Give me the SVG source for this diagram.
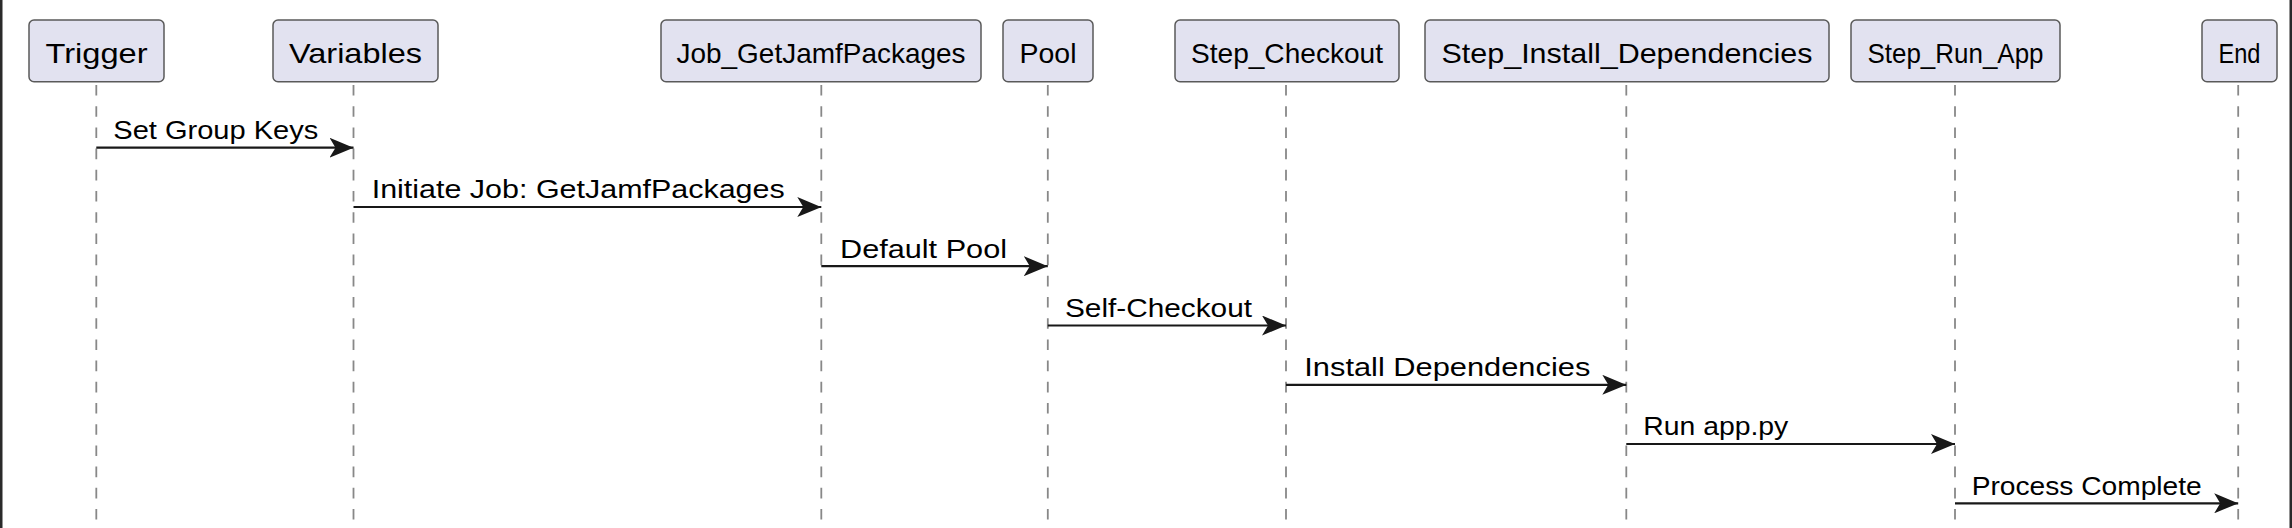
<svg xmlns="http://www.w3.org/2000/svg" width="2292" height="528" viewBox="0 0 2292 528">
<style>
.box{fill:#E2E2F0;stroke:#5a5a5a;stroke-width:1.5}
.pt{font-family:"Liberation Sans",Arial,sans-serif;font-size:28px;fill:#000;text-anchor:middle}
.life{stroke:#888;stroke-width:1.8;stroke-dasharray:10.6 10.6;fill:none}
.msg{stroke:#181818;stroke-width:2.2;fill:none;marker-end:url(#ah)}
.ml{font-family:"Liberation Sans",Arial,sans-serif;font-size:26px;fill:#000}
</style>
<defs>
<marker id="ah" markerUnits="userSpaceOnUse" viewBox="0 0 24 20" refX="24" refY="10" markerWidth="24" markerHeight="20" orient="auto">
<path d="M0,0 L24,10 L0,20 L6,10 Z" fill="#181818"/>
</marker>
</defs>
<rect x="0" y="0" width="2292" height="528" fill="#fff"/>
<rect x="0" y="0" width="2.5" height="528" fill="#2a2a2a"/>
<rect x="2289.5" y="0" width="2.5" height="528" fill="#2a2a2a"/>
<g id="lifelines">
<line class="life" x1="96.3" y1="85" x2="96.3" y2="528"/>
<line class="life" x1="353.5" y1="85" x2="353.5" y2="528"/>
<line class="life" x1="821.3" y1="85" x2="821.3" y2="528"/>
<line class="life" x1="1047.8" y1="85" x2="1047.8" y2="528"/>
<line class="life" x1="1286" y1="85" x2="1286" y2="528"/>
<line class="life" x1="1626.3" y1="85" x2="1626.3" y2="528"/>
<line class="life" x1="1955" y1="85" x2="1955" y2="528"/>
<line class="life" x1="2238.2" y1="85" x2="2238.2" y2="528"/>
</g>
<g id="Trigger"><rect class="box" x="29" y="20" width="135" height="61.7" rx="5"/><text class="pt" x="96.5" y="62.5" textLength="102" lengthAdjust="spacingAndGlyphs">Trigger</text></g>
<g id="Variables"><rect class="box" x="273" y="20" width="165" height="61.7" rx="5"/><text class="pt" x="355.5" y="62.5" textLength="133" lengthAdjust="spacingAndGlyphs">Variables</text></g>
<g id="Job_GetJamfPackages"><rect class="box" x="661" y="20" width="320" height="61.7" rx="5"/><text class="pt" x="821" y="62.5" textLength="289" lengthAdjust="spacingAndGlyphs">Job_GetJamfPackages</text></g>
<g id="Pool"><rect class="box" x="1003" y="20" width="90" height="61.7" rx="5"/><text class="pt" x="1048" y="62.5" textLength="57" lengthAdjust="spacingAndGlyphs">Pool</text></g>
<g id="Step_Checkout"><rect class="box" x="1175" y="20" width="224" height="61.7" rx="5"/><text class="pt" x="1287" y="62.5" textLength="192" lengthAdjust="spacingAndGlyphs">Step_Checkout</text></g>
<g id="Step_Install_Dependencies"><rect class="box" x="1425" y="20" width="404" height="61.7" rx="5"/><text class="pt" x="1627" y="62.5" textLength="371" lengthAdjust="spacingAndGlyphs">Step_Install_Dependencies</text></g>
<g id="Step_Run_App"><rect class="box" x="1851" y="20" width="209" height="61.7" rx="5"/><text class="pt" x="1955.5" y="62.5" textLength="176" lengthAdjust="spacingAndGlyphs">Step_Run_App</text></g>
<g id="End"><rect class="box" x="2202" y="20" width="75" height="61.7" rx="5"/><text class="pt" x="2239.5" y="62.5" textLength="42" lengthAdjust="spacingAndGlyphs">End</text></g>
<g id="connectors">
<line class="msg" x1="96.3" y1="147.7" x2="353.5" y2="147.7"/>
<text class="ml" x="113.3" y="139" textLength="205" lengthAdjust="spacingAndGlyphs">Set Group Keys</text>
<line class="msg" x1="353.5" y1="207" x2="821.3" y2="207"/>
<text class="ml" x="371.7" y="198.3" textLength="413" lengthAdjust="spacingAndGlyphs">Initiate Job: GetJamfPackages</text>
<line class="msg" x1="821.3" y1="266.2" x2="1047.8" y2="266.2"/>
<text class="ml" x="840" y="257.5" textLength="167" lengthAdjust="spacingAndGlyphs">Default Pool</text>
<line class="msg" x1="1047.8" y1="325.5" x2="1286" y2="325.5"/>
<text class="ml" x="1065" y="316.8" textLength="187" lengthAdjust="spacingAndGlyphs">Self-Checkout</text>
<line class="msg" x1="1286" y1="384.8" x2="1626.3" y2="384.8"/>
<text class="ml" x="1304.3" y="376" textLength="286" lengthAdjust="spacingAndGlyphs">Install Dependencies</text>
<line class="msg" x1="1626.3" y1="444" x2="1955" y2="444"/>
<text class="ml" x="1643.3" y="435.3" textLength="145" lengthAdjust="spacingAndGlyphs">Run app.py</text>
<line class="msg" x1="1955" y1="503.3" x2="2238.2" y2="503.3"/>
<text class="ml" x="1971.7" y="494.6" textLength="230" lengthAdjust="spacingAndGlyphs">Process Complete</text>
</g>
</svg>
